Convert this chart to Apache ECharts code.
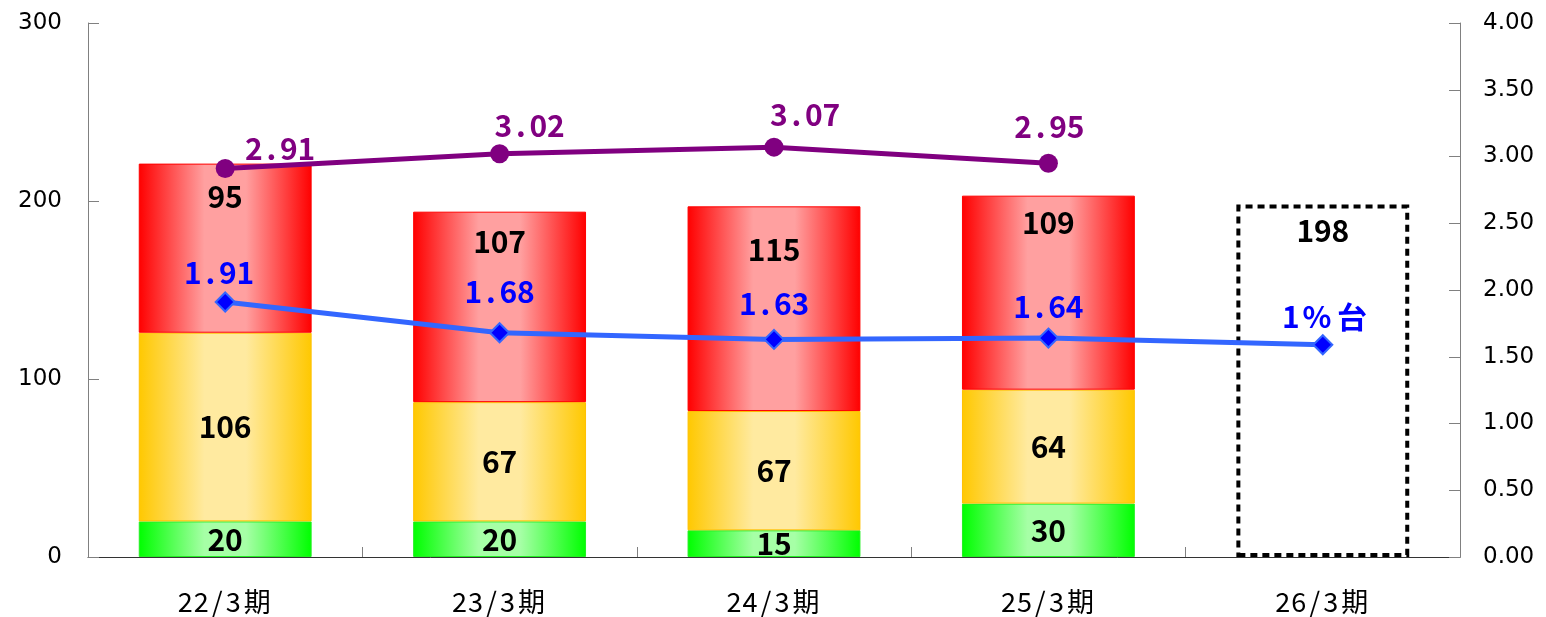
<!DOCTYPE html>
<html>
<head>
<meta charset="utf-8">
<style>
  html, body { margin: 0; padding: 0; background: #ffffff; }
  #chart { width: 1546px; height: 617px; }
</style>
<script src="https://cdn.jsdelivr.net/npm/echarts@6/dist/echarts.min.js"></script>
</head>
<body>
<div id="chart"></div>
<script>
// Categories (fiscal years)
const categories = ['22/3期', '23/3期', '24/3期', '25/3期', '26/3期'];

// Stacked bar segments (left axis)
const greenVals  = [20, 20, 15, 30, null];
const yellowVals = [106, 67, 67, 64, null];
const redVals    = [95, 107, 115, 109, null];
// Outlook total drawn as a dashed outline
const outlookVals = [null, null, null, null, 198];

// Ratio lines (right axis)
const purpleVals = [2.91, 3.02, 3.07, 2.95, null];
const blueVals   = [1.91, 1.68, 1.63, 1.64, 1.59];
const blueTexts  = ['1.91', '1.68', '1.63', '1.64', '1%台'];

// Axis scales
const leftAxis  = { min: 0, max: 300, interval: 100 };
const rightAxis = { min: 0, max: 4, interval: 0.5 };

// Label nudges for the line labels
const purpleShift = [[55, 10], [30, 1], [31, -3], [1, -7]];
const blueShift   = [[-6, 1], [0, -11], [0, -5], [0, -1], [3, 2]];
const redDist     = [18, 15, 28, 12];

const CJK = '"Noto Sans CJK JP", "Noto Sans CJK SC", sans-serif';

// Lay each glyph into a fixed cell so digits sit on an even grid
function gridText(str, key) {
  return str.split('').map(function (ch) {
    const wide = ch.charCodeAt(0) > 0xff || ch === '%';
    return '{' + key + (wide ? 'W' : '') + '|' + ch + '}';
  }).join('');
}
function cellStyles(key, size, cell, color, weight) {
  const o = {};
  const base = { fontSize: size, fontFamily: CJK, color: color, fontWeight: weight, align: 'center', height: size, lineHeight: size };
  o[key] = Object.assign({ width: cell }, base);
  o[key + 'W'] = Object.assign({ width: cell * 2 }, base);
  return o;
}

function hGrad(edge, mid) {
  return new echarts.graphic.LinearGradient(0, 0, 1, 0, [
    { offset: 0, color: edge },
    { offset: 0.38, color: mid },
    { offset: 0.62, color: mid },
    { offset: 1, color: edge }
  ]);
}

const barLabelRich = cellStyles('b', 30, 17.5, '#000000', 'bold');

function segmentSeries(name, vals, edge, mid, border, labelPos, dists) {
  return {
    name: name,
    type: 'bar',
    stack: 'total',
    barWidth: '63%',
    data: vals.map(function (v, i) {
      const item = { value: v };
      if (dists && dists[i] != null) item.label = { distance: dists[i] };
      return item;
    }),
    itemStyle: { color: hGrad(edge, mid), borderColor: border, borderWidth: 1 },
    label: {
      show: true,
      position: labelPos,
      distance: 18,
      formatter: function (p) { return p.value == null ? '' : gridText(String(p.value), 'b'); },
      rich: barLabelRich
    },
    z: 2
  };
}

const chart = echarts.init(document.getElementById('chart'), null, { renderer: 'canvas' });

const option = {
  backgroundColor: '#ffffff',
  animation: false,
  grid: { left: 88, right: 86, top: 23, bottom: 60, containLabel: false },
  xAxis: {
    type: 'category',
    data: categories,
    boundaryGap: true,
    axisLine: { show: true, lineStyle: { color: '#333333', width: 1 } },
    axisTick: { show: true, inside: true, length: 10, alignWithLabel: false, lineStyle: { color: '#808080' } },
    axisLabel: {
      margin: 31,
      formatter: function (v) { return gridText(v, 'x'); },
      rich: cellStyles('x', 27, 16, '#000000', 'normal')
    },
    splitLine: { show: false }
  },
  yAxis: [
    {
      type: 'value',
      position: 'left',
      min: leftAxis.min, max: leftAxis.max, interval: leftAxis.interval,
      axisLine: { show: true, lineStyle: { color: '#808080', width: 1 } },
      axisTick: { show: true, inside: true, length: 11, lineStyle: { color: '#808080' } },
      axisLabel: { margin: 26, fontFamily: '"DejaVu Sans", sans-serif', fontSize: 23, color: '#000000' },
      splitLine: { show: false }
    },
    {
      type: 'value',
      position: 'right',
      min: rightAxis.min, max: rightAxis.max, interval: rightAxis.interval,
      axisLine: { show: true, lineStyle: { color: '#808080', width: 1 } },
      axisTick: { show: true, inside: true, length: 11, lineStyle: { color: '#808080' } },
      axisLabel: {
        margin: 23, fontFamily: '"DejaVu Sans", sans-serif', fontSize: 23, color: '#000000',
        formatter: function (v) { return v.toFixed(2); }
      },
      splitLine: { show: false }
    }
  ],
  series: [
    segmentSeries('区分1', greenVals, '#00ff00', '#a6ffa6', '#22ee22', 'inside'),
    segmentSeries('区分2', yellowVals, '#ffc800', '#ffeaa0', '#ffc000', 'inside'),
    segmentSeries('区分3', redVals, '#ff0000', '#ffa0a0', '#ff0000', 'insideTop', redDist),
    {
      name: '見通し',
      type: 'bar',
      stack: 'outlook',
      barWidth: '63%',
      barGap: '-100%',
      data: outlookVals,
      itemStyle: { color: 'rgba(0,0,0,0)', borderColor: '#000000', borderWidth: 4, borderType: [7, 5] },
      label: {
        show: true,
        position: 'insideTop',
        distance: 11,
        formatter: function (p) { return p.value == null ? '' : gridText(String(p.value), 'b'); },
        rich: barLabelRich
      },
      z: 2
    },
    {
      name: '比率A',
      type: 'line',
      yAxisIndex: 1,
      data: purpleVals.map(function (v, i) {
        return { value: v, label: { offset: purpleShift[i] || [0, 0] } };
      }),
      symbol: 'circle',
      symbolSize: 19,
      lineStyle: { color: '#800080', width: 5 },
      itemStyle: { color: '#800080' },
      label: {
        show: true,
        position: 'top',
        distance: 5,
        formatter: function (p) { return p.value == null ? '' : gridText(p.value.toFixed(2), 'p'); },
        rich: cellStyles('p', 30, 17.5, '#800080', 'bold')
      },
      z: 5
    },
    {
      name: '比率B',
      type: 'line',
      yAxisIndex: 1,
      data: blueVals.map(function (v, i) {
        return { value: v, label: { offset: blueShift[i] || [0, 0] } };
      }),
      symbol: 'diamond',
      symbolSize: 19,
      lineStyle: { color: '#3366ff', width: 5 },
      itemStyle: { color: '#0000ff', borderColor: '#3366ff', borderWidth: 2 },
      label: {
        show: true,
        position: 'top',
        distance: 5,
        formatter: function (p) { return gridText(blueTexts[p.dataIndex], 'q'); },
        rich: cellStyles('q', 30, 17.5, '#0000ff', 'bold')
      },
      z: 6
    }
  ]
};

chart.setOption(option);
</script>
</body>
</html>
